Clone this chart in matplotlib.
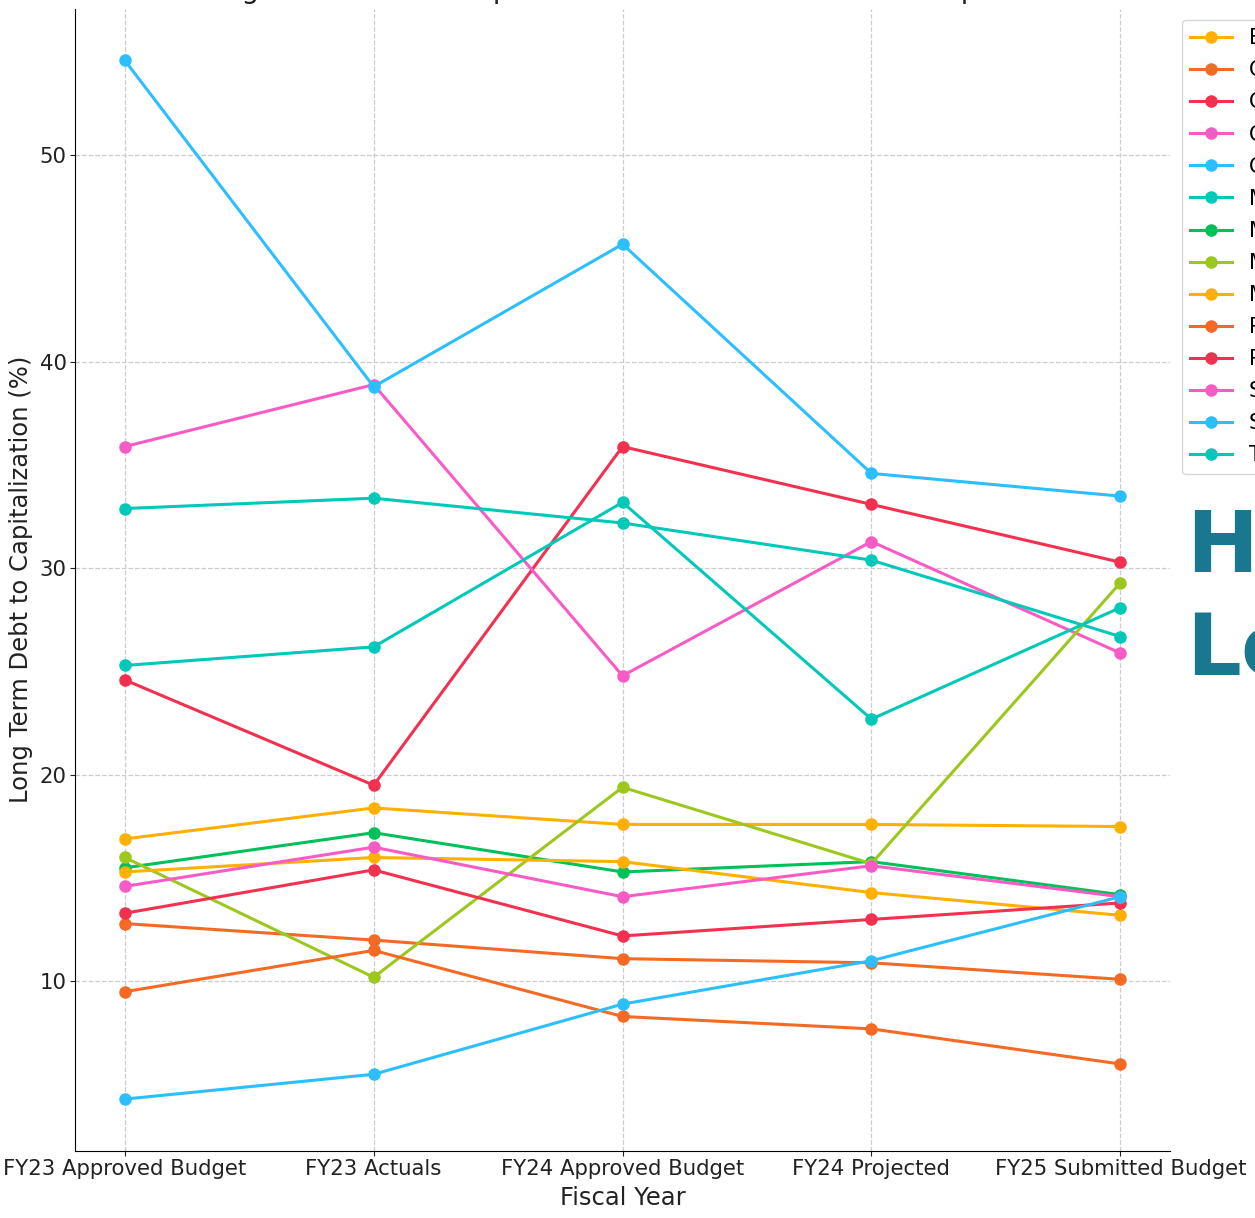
import matplotlib
matplotlib.use("Agg")
import matplotlib.pyplot as plt

# fiscal periods on the x axis
periods = ["FY23 Approved Budget", "FY23 Actuals", "FY24 Approved Budget",
           "FY24 Projected", "FY25 Submitted Budget"]

# long term debt to capitalization (%) per entity
baltimore = [16.9, 18.4, 17.6, 17.6, 17.5]
charlotte = [12.8, 12.0, 11.1, 10.9, 10.1]
chicago = [24.6, 19.5, 35.9, 33.1, 30.3]
cincinnati = [35.9, 38.9, 24.8, 31.3, 25.9]
cleveland = [54.6, 38.8, 45.7, 34.6, 33.5]
memphis = [32.9, 33.4, 32.2, 30.4, 26.7]
miami = [15.5, 17.2, 15.3, 15.8, 14.2]
milwaukee = [16.0, 10.2, 19.4, 15.7, 29.3]
minneapolis = [15.3, 16.0, 15.8, 14.3, 13.2]
philadelphia = [9.5, 11.5, 8.3, 7.7, 6.0]
pittsburgh = [13.3, 15.4, 12.2, 13.0, 13.8]
san_diego = [14.6, 16.5, 14.1, 15.6, 14.1]
seattle = [4.3, 5.5, 8.9, 11.0, 14.1]
tampa = [25.3, 26.2, 33.2, 22.7, 28.1]

entities = ["Baltimore", "Charlotte", "Chicago", "Cincinnati", "Cleveland",
            "Memphis", "Miami", "Milwaukee", "Minneapolis", "Philadelphia",
            "Pittsburgh", "San Diego", "Seattle", "Tampa"]
series = [baltimore, charlotte, chicago, cincinnati, cleveland, memphis, miami,
          milwaukee, minneapolis, philadelphia, pittsburgh, san_diego, seattle, tampa]

palette = ["#ffb000", "#f46a25", "#f3304f", "#f95bc6", "#2cbfff", "#00c9b9",
           "#00c05a", "#9cc81e"]

fig = plt.figure(figsize=(12.55, 12.18), dpi=100)
ax = fig.add_axes([0.0598, 0.0550, 0.8725, 0.9380])

for i, (name, vals) in enumerate(zip(entities, series)):
    ax.plot(periods, vals, "-o", color=palette[i % len(palette)], lw=2.2, ms=8,
            label=name, zorder=3)

ax.grid(True, ls="--", color="#cccccc", lw=0.9, zorder=0)
ax.set_axisbelow(True)
for side in ("top", "right"):
    ax.spines[side].set_visible(False)
ax.tick_params(labelsize=15.3, length=3.5, pad=2.5, colors="#222222")
ax.set_xlabel("Fiscal Year", fontsize=17.5, labelpad=5, color="#222222")
ax.set_ylabel("Long Term Debt to Capitalization (%)", fontsize=17.5,
              labelpad=5, color="#222222")

# title sits right against the top edge of the canvas
ax_mid = (ax.get_position().x0 + ax.get_position().x1) / 2
fig.text(ax_mid, 1 + 1.5 / 1218,
         "Long Term Debt to Capitalization Trends Across All Companies",
         fontsize=20, ha="center", va="baseline", color="#222222")

ax.legend(loc="upper left", bbox_to_anchor=(0.9418, 0.9836),
          bbox_transform=fig.transFigure, borderaxespad=0, fontsize=15,
          labelspacing=0.58, edgecolor="#cccccc")

fig.text(0.9450, 1 - 572 / 1218, "Houston", fontsize=62, fontweight="bold",
         color="#19788f", va="baseline")
fig.text(0.9450, 1 - 675 / 1218, "Louisville", fontsize=62, fontweight="bold",
         color="#19788f", va="baseline")

fig.savefig("out.png", dpi=100)
